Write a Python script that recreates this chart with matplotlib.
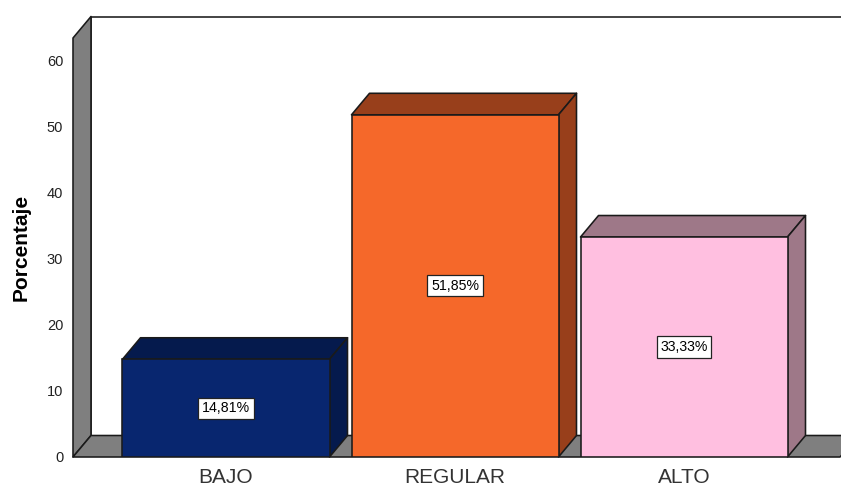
import matplotlib
matplotlib.use("Agg")
import matplotlib.pyplot as plt
from matplotlib.patches import Polygon

plt.rcParams["font.family"] = ["Liberation Sans", "DejaVu Sans"]

categories = ["BAJO", "REGULAR", "ALTO"]
porcentajes = [14.81, 51.85, 33.33]
etiquetas = ["14,81%", "51,85%", "33,33%"]
y_ticks = [0, 10, 20, 30, 40, 50, 60]

BAR_COLORS = ["#08266F", "#F5682A", "#FFBFE0"]
SIDE_COLORS = ["#051A4D", "#983F1B", "#9E7888"]
WALL = "#7F7F7F"
EDGE = "#1A1A1A"

W, H = 841, 487
fig = plt.figure(figsize=(W / 100, H / 100), dpi=100)

# axes run from the front-left corner of the floor to the top right of the image
left, base = 73, 457
ax = fig.add_axes([left / W, (H - base) / H, (W - left) / W, base / H])
PX_Y = 6.6    # pixels per percent
PX_X = 229.0  # pixels per category
ax.set_xlim((left - 455) / PX_X, (W - 455) / PX_X)
ax.set_ylim(0, base / PX_Y)

# 3d offset of the box, in data units
dx = 18 / PX_X
dy = 21.5 / PX_Y
bar_w = 207 / PX_X
x0 = ax.get_xlim()[0]
x1 = ax.get_xlim()[1]
y_top = (base - 38) / PX_Y


def poly(pts, color, z):
    ax.add_patch(Polygon(pts, closed=True, facecolor=color, edgecolor=EDGE,
                         linewidth=1.15, joinstyle="round", zorder=z, clip_on=False))


# back wall, left wall and floor
poly([(x0 + dx, dy), (x1 + 0.2, dy), (x1 + 0.2, y_top + dy), (x0 + dx, y_top + dy)], "white", 1)
poly([(x0, 0), (x0 + dx, dy), (x0 + dx, y_top + dy), (x0, y_top)], WALL, 2)
poly([(x0, 0), (x1 - 1 / PX_X, 0), (x1 + dx, dy), (x0 + dx, dy)], WALL, 2)

for i, (v, lab) in enumerate(zip(porcentajes, etiquetas)):
    l, r = i - 1 - bar_w / 2, i - 1 + bar_w / 2
    z = 3 + i
    poly([(l, v), (l + dx, v + dy), (r + dx, v + dy), (r, v)], SIDE_COLORS[i], z)
    poly([(r, 0), (r + dx, dy), (r + dx, v + dy), (r, v)], SIDE_COLORS[i], z)
    ax.bar(i - 1, v, width=bar_w, color=BAR_COLORS[i], edgecolor=EDGE, linewidth=1.15, zorder=z)
    ax.text(i - 1, v / 2, lab, ha="center", va="center", fontsize=10.2, color="black", zorder=8,
            bbox=dict(boxstyle="square,pad=0.25", facecolor="white", edgecolor="#222222", linewidth=0.9))

for s in ax.spines.values():
    s.set_visible(False)
ax.patch.set_visible(False)
ax.set_xticks([-1, 0, 1])
ax.set_xticklabels(categories, fontsize=15, color="#333333")
ax.set_yticks(y_ticks)
ax.set_yticklabels([str(t) for t in y_ticks], fontsize=10.5, color="#222222")
ax.tick_params(axis="x", length=0, pad=8)
ax.tick_params(axis="y", length=0, pad=7)
ax.set_ylabel("Porcentaje", fontsize=15, fontweight="bold", color="black")
ax.yaxis.set_label_coords((31 - left) / (W - left), (base - 247) / base)

fig.savefig("out.png", dpi=100)
